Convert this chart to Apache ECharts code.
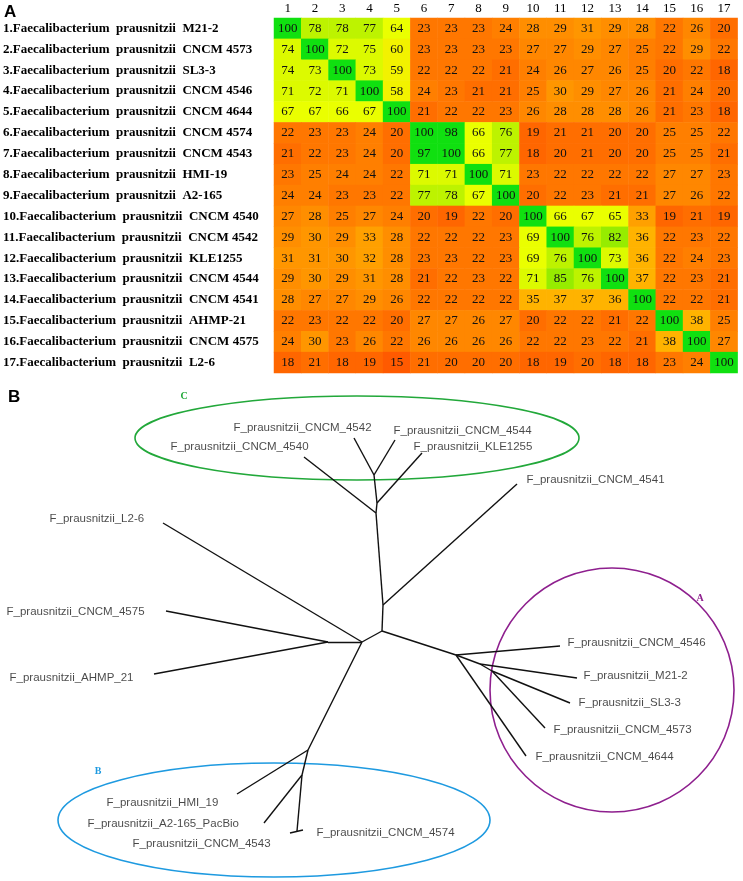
<!DOCTYPE html>
<html><head><meta charset="utf-8">
<script src="https://cdn.jsdelivr.net/npm/echarts/dist/echarts.min.js"></script>
<style>html,body{margin:0;padding:0;background:#fff}#c{width:743px;height:881px}</style>
</head><body><div id="c"></div><script>
// ---------- Panel A data ----------
const colLabels = ['1','2','3','4','5','6','7','8','9','10','11','12','13','14','15','16','17'];
const rowLabels = [
 '1.Faecalibacterium  prausnitzii  M21-2',
 '2.Faecalibacterium  prausnitzii  CNCM 4573',
 '3.Faecalibacterium  prausnitzii  SL3-3',
 '4.Faecalibacterium  prausnitzii  CNCM 4546',
 '5.Faecalibacterium  prausnitzii  CNCM 4644',
 '6.Faecalibacterium  prausnitzii  CNCM 4574',
 '7.Faecalibacterium  prausnitzii  CNCM 4543',
 '8.Faecalibacterium  prausnitzii  HMI-19',
 '9.Faecalibacterium  prausnitzii  A2-165',
 '10.Faecalibacterium  prausnitzii  CNCM 4540',
 '11.Faecalibacterium  prausnitzii  CNCM 4542',
 '12.Faecalibacterium  prausnitzii  KLE1255',
 '13.Faecalibacterium  prausnitzii  CNCM 4544',
 '14.Faecalibacterium  prausnitzii  CNCM 4541',
 '15.Faecalibacterium  prausnitzii  AHMP-21',
 '16.Faecalibacterium  prausnitzii  CNCM 4575',
 '17.Faecalibacterium  prausnitzii  L2-6'
];
const row1  = [100,78,78,77,64,23,23,23,24,28,29,31,29,28,22,26,20];
const row2  = [74,100,72,75,60,23,23,23,23,27,27,29,27,25,22,29,22];
const row3  = [74,73,100,73,59,22,22,22,21,24,26,27,26,25,20,22,18];
const row4  = [71,72,71,100,58,24,23,21,21,25,30,29,27,26,21,24,20];
const row5  = [67,67,66,67,100,21,22,22,23,26,28,28,28,26,21,23,18];
const row6  = [22,23,23,24,20,100,98,66,76,19,21,21,20,20,25,25,22];
const row7  = [21,22,23,24,20,97,100,66,77,18,20,21,20,20,25,25,21];
const row8  = [23,25,24,24,22,71,71,100,71,23,22,22,22,22,27,27,23];
const row9  = [24,24,23,23,22,77,78,67,100,20,22,23,21,21,27,26,22];
const row10 = [27,28,25,27,24,20,19,22,20,100,66,67,65,33,19,21,19];
const row11 = [29,30,29,33,28,22,22,22,23,69,100,76,82,36,22,23,22];
const row12 = [31,31,30,32,28,23,23,22,23,69,76,100,73,36,22,24,23];
const row13 = [29,30,29,31,28,21,22,23,22,71,85,76,100,37,22,23,21];
const row14 = [28,27,27,29,26,22,22,22,22,35,37,37,36,100,22,22,21];
const row15 = [22,23,22,22,20,27,27,26,27,20,22,22,21,22,100,38,25];
const row16 = [24,30,23,26,22,26,26,26,26,22,22,23,22,21,38,100,27];
const row17 = [18,21,18,19,15,21,20,20,20,18,19,20,18,18,23,24,100];
const identityRows = [row1,row2,row3,row4,row5,row6,row7,row8,row9,row10,row11,row12,row13,row14,row15,row16,row17];

// ---------- Panel B data (tree drawn in a hidden value-axis plane) ----------
const treeNodes = {
  e4542:[354,438], e4544:[395,440], n1:[374,475], eKLE:[422,453], n2:[377,503],
  e4540:[304,457], n3:[376,513], n4:[383,605], e4541:[517,484], hub1:[382,631],
  hub2:[362,642], eL26:[163,523], n5:[328,642], e4575:[166,611], eAHMP:[154,674],
  nB1:[308,750], eHMI:[237,794], nB2:[302,775], eA2:[264,823], nB3:[297,831],
  e4543:[290,833], e4574:[303,830],
  nA:[456,655], e4546:[560,646], nA2:[480,664], eM21:[577,678], nA3:[492,671],
  eSL3:[570,703], e4573:[545,728], e4644:[526,756]
};
const treeEdges = [
  ['e4542','n1'],['e4544','n1'],['n1','n2'],['eKLE','n2'],['n2','n3'],['e4540','n3'],
  ['n3','n4'],['e4541','n4'],['n4','hub1'],['hub1','hub2'],['eL26','hub2'],['hub2','n5'],
  ['e4575','n5'],['eAHMP','n5'],['hub2','nB1'],['nB1','eHMI'],['nB1','nB2'],['nB2','eA2'],
  ['nB2','nB3'],['e4543','e4574'],
  ['hub1','nA'],['nA','e4546'],['nA','nA2'],['nA2','eM21'],['nA2','nA3'],['nA3','eSL3'],
  ['nA3','e4573'],['nA','e4644']
];
const leafLabels = [
  ['F_prausnitzii_CNCM_4542',233,428],['F_prausnitzii_CNCM_4544',393,431],
  ['F_prausnitzii_KLE1255',413,447],['F_prausnitzii_CNCM_4540',170,447],
  ['F_prausnitzii_CNCM_4541',526,480],['F_prausnitzii_L2-6',49,519],
  ['F_prausnitzii_CNCM_4575',6,612],['F_prausnitzii_AHMP_21',9,678],
  ['F_prausnitzii_HMI_19',106,803],['F_prausnitzii_A2-165_PacBio',87,824],
  ['F_prausnitzii_CNCM_4543',132,844],['F_prausnitzii_CNCM_4574',316,833],
  ['F_prausnitzii_CNCM_4546',567,643],['F_prausnitzii_M21-2',583,676],
  ['F_prausnitzii_SL3-3',578,703],['F_prausnitzii_CNCM_4573',553,730],
  ['F_prausnitzii_CNCM_4644',535,757]
];
// clade outlines
const cladeNames = ['C','B','A'];
const cladeShapes = [[357,438,222,42],[274,820,216,57],[612,690,122,122]];
const cladeColors = ['#22a83a','#1e9ae0','#8e1f8e'];
const cladeLabelPos = [[184,396],[98,771],[700,598]];

// ---------- build ----------
const heatData = [];
identityRows.forEach((r, i) => r.forEach((v, j) => heatData.push([j, i, v])));
const edgeData = treeEdges.map(e => ({coords:[treeNodes[e[0]], treeNodes[e[1]]]}));
const labelData = leafLabels.map(l => ({value:[l[1], l[2]], name:l[0]}));

const chart = echarts.init(document.getElementById('c'), null, {renderer:'canvas'});
const serif = 'Liberation Serif';
const sans = 'Liberation Sans';
const option = {
  backgroundColor:'#ffffff',
  animation:false,
  grid:[
    {left:273.6, top:18, width:464, height:355},
    {left:0, top:0, right:0, bottom:0}
  ],
  xAxis:[
    {type:'category', gridIndex:0, data:colLabels, position:'top',
     axisLine:{show:false}, axisTick:{show:false}, splitLine:{show:false},
     axisLabel:{fontFamily:serif, fontSize:13, color:'#000', margin:3}},
    {type:'value', gridIndex:1, min:0, max:743, show:false}
  ],
  yAxis:[
    {type:'category', gridIndex:0, data:rowLabels, inverse:true,
     axisLine:{show:false}, axisTick:{show:false}, splitLine:{show:false},
     axisLabel:{fontFamily:serif, fontSize:13, fontWeight:'bold', color:'#000', align:'left', margin:271}},
    {type:'value', gridIndex:1, min:0, max:881, inverse:true, show:false}
  ],
  visualMap:{
    type:'piecewise', show:false, seriesIndex:0, dimension:2,
    pieces:[
      {lte:16, color:'#ff5a00'},
      {gt:16, lte:19, color:'#ff6600'},
      {gt:19, lte:21, color:'#ff6e00'},
      {gt:21, lte:23, color:'#ff7700'},
      {gt:23, lte:25, color:'#ff7f00'},
      {gt:25, lte:27, color:'#ff8700'},
      {gt:27, lte:29, color:'#ff8e00'},
      {gt:29, lte:31, color:'#ff9600'},
      {gt:31, lte:34, color:'#ffa000'},
      {gt:34, lte:39, color:'#ffb300'},
      {gt:39, lte:62, color:'#f2f200'},
      {gt:62, lte:69, color:'#eaff00'},
      {gt:69, lte:75, color:'#dcfa00'},
      {gt:75, lte:79, color:'#bdf300'},
      {gt:79, lte:89, color:'#96ec00'},
      {gt:89, color:'#10e010'}
    ]
  },
  graphic:[
    {type:'text', left:4, top:4, style:{text:'A', font:'bold 17px "Liberation Sans"', fill:'#000'}},
    {type:'text', left:8, top:389, style:{text:'B', font:'bold 17px "Liberation Sans"', fill:'#000'}}
  ],
  series:[
    {type:'heatmap', xAxisIndex:0, yAxisIndex:0, data:heatData,
     label:{show:true, fontFamily:serif, fontSize:13, color:'#111'},
     itemStyle:{borderWidth:0}, emphasis:{disabled:true}},
    {type:'lines', coordinateSystem:'cartesian2d', xAxisIndex:1, yAxisIndex:1, data:edgeData,
     lineStyle:{color:'#111', width:1.4, opacity:1}, silent:true, z:3},
    {type:'scatter', xAxisIndex:1, yAxisIndex:1, data:labelData, symbolSize:1,
     itemStyle:{color:'rgba(0,0,0,0)'},
     label:{show:true, position:'right', distance:0, formatter:p=>p.name,
            fontFamily:sans, fontSize:11.5, color:'#1a1a1a', verticalAlign:'middle'}, silent:true, z:4}
  ]
};
chart.setOption(option);

// clade outlines + clade letters placed through the hidden axes
const extra = [];
cladeShapes.forEach((s, i) => {
  const c = chart.convertToPixel({gridIndex:1}, [s[0], s[1]]);
  const e = chart.convertToPixel({gridIndex:1}, [s[0] + s[2], s[1] + s[3]]);
  extra.push({type:'ellipse', shape:{cx:c[0], cy:c[1], rx:e[0]-c[0], ry:e[1]-c[1]},
              style:{fill:'none', stroke:cladeColors[i], lineWidth:1.6}, z:2});
  const lp = chart.convertToPixel({gridIndex:1}, cladeLabelPos[i]);
  extra.push({type:'text', x:lp[0], y:lp[1],
              style:{text:cladeNames[i], font:'bold 10px "Liberation Serif"', fill:cladeColors[i],
                     textAlign:'center', textVerticalAlign:'middle'}, z:5});
});
chart.setOption({graphic: option.graphic.concat(extra)});
</script></body></html>
